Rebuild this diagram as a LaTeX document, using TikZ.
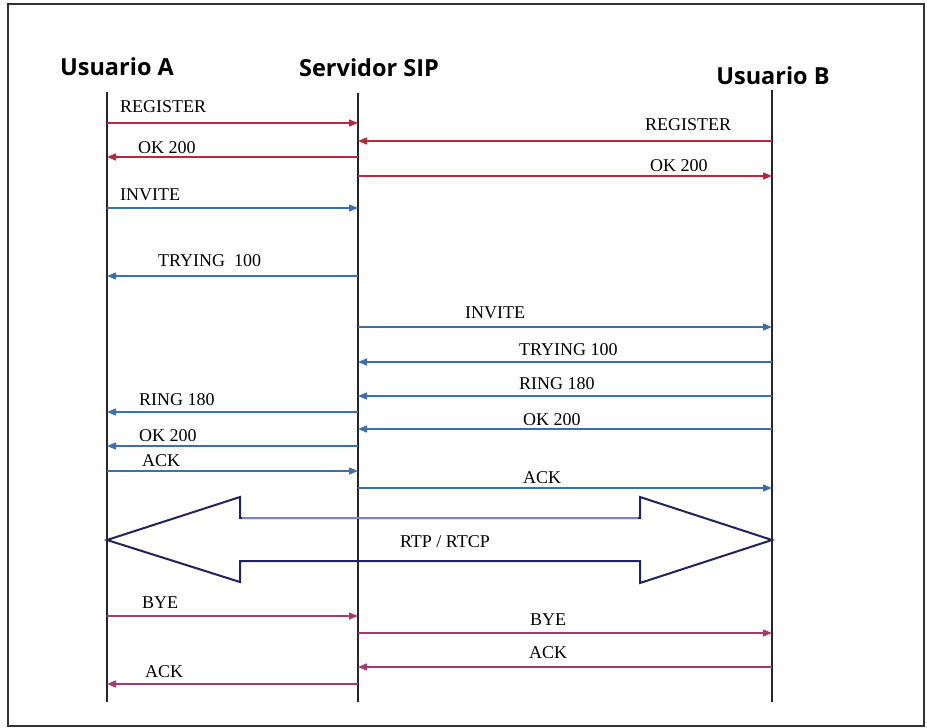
\documentclass[tikz,border=0pt]{standalone}
\usepackage{fontspec}
\setmainfont{Liberation Serif}
\newfontfamily\headfont{Open Sans}
\usetikzlibrary{arrows.meta}
\definecolor{regred}{HTML}{B8283C}
\definecolor{invblue}{HTML}{3A6FB2}
\definecolor{byepurple}{HTML}{A33A70}
\definecolor{rtpnavy}{HTML}{22225E}
\definecolor{rtplav}{HTML}{7F7FC4}

\tikzset{
  msg/.style={line width=1.4pt,-{Triangle[length=9pt,width=7pt]}},
  reg/.style={msg,regred},
  inv/.style={msg,invblue},
  bye/.style={msg,byepurple},
  lbl/.style={anchor=west,inner sep=0pt,font=\fontsize{18}{18}\selectfont},
  head/.style={font=\headfont\bfseries\fontsize{23.5}{23.5}\selectfont,inner sep=0pt},
  life/.style={line width=1.6pt,black!85}
}

\begin{document}
\begin{tikzpicture}[x=1pt,y=-1pt]
  \useasboundingbox (0,0) rectangle (927,728);
  \draw[line width=1.6pt,black!80] (8,4) rectangle (924,726);

  % participants
  \node[head] (ua) at (117,67) {Usuario A};
  \node[head] (ss) at (369,68) {Servidor SIP};
  \node[head] (ub) at (773,76) {Usuario B};
  \coordinate (A) at (107,92);  \coordinate (Aend) at (107,702);
  \coordinate (S) at (358,93);  \coordinate (Send) at (358,702);
  \coordinate (B) at (772,90);  \coordinate (Bend) at (772,702);
  \draw[life] (A) -- (Aend);
  \draw[life] (S) -- (Send);
  \draw[life] (B) -- (Bend);

  % registro
  \draw[reg] (A |- 0,123) -- (S |- 0,123);
  \node[lbl] (m1) at (120,107) {REGISTER};
  \draw[reg] (B |- 0,141) -- (S |- 0,141);
  \node[lbl] (m2) at (645,125) {REGISTER};
  \draw[reg] (S |- 0,157) -- (A |- 0,157);
  \node[lbl] (m3) at (138,148) {OK 200};
  \draw[reg] (S |- 0,176) -- (B |- 0,176);
  \node[lbl] (m4) at (650,166) {OK 200};

  % establecimiento
  \draw[inv] (A |- 0,208) -- (S |- 0,208);
  \node[lbl] (m5) at (120,195) {INVITE};
  \draw[inv] (S |- 0,276) -- (A |- 0,276);
  \node[lbl] (m6) at (158,261) {TRYING\ \ 100};
  \draw[inv] (S |- 0,327) -- (B |- 0,327);
  \node[lbl] (m7) at (465,313) {INVITE};
  \draw[inv] (B |- 0,362) -- (S |- 0,362);
  \node[lbl] (m8) at (519,350) {TRYING 100};
  \draw[inv] (B |- 0,396) -- (S |- 0,396);
  \node[lbl] (m9) at (519,384) {RING 180};
  \draw[inv] (S |- 0,412) -- (A |- 0,412);
  \node[lbl] (m10) at (139,400) {RING 180};
  \draw[inv] (B |- 0,429) -- (S |- 0,429);
  \node[lbl] (m11) at (523,420) {OK 200};
  \draw[inv] (S |- 0,446) -- (A |- 0,446);
  \node[lbl] (m12) at (139,436) {OK 200};
  \draw[inv] (A |- 0,471) -- (S |- 0,471);
  \node[lbl] (m13) at (142,461) {ACK};
  \draw[inv] (S |- 0,488) -- (B |- 0,488);
  \node[lbl] (m14) at (523,478) {ACK};

  % flujo de medios
  \draw[rtpnavy,line width=2pt,line join=miter]
    (A |- 0,540) -- (240,497) -- (240,518) -- (640,518) -- (640,497)
    -- (B |- 0,540) -- (640,583) -- (640,561) -- (240,561) -- (240,582) -- cycle;
  \draw[rtplav,line width=2pt] (242,518) -- (638,518);
  \node[inner sep=0pt,font=\fontsize{18}{18}\selectfont] (rtp) at (445,542) {RTP / RTCP};

  % liberacion
  \draw[bye] (A |- 0,616) -- (S |- 0,616);
  \node[lbl] (m15) at (142,603) {BYE};
  \draw[bye] (S |- 0,633) -- (B |- 0,633);
  \node[lbl] (m16) at (530,620) {BYE};
  \draw[bye] (B |- 0,667) -- (S |- 0,667);
  \node[lbl] (m17) at (529,653) {ACK};
  \draw[bye] (S |- 0,684) -- (A |- 0,684);
  \node[lbl] (m18) at (145,672) {ACK};
\end{tikzpicture}
\end{document}
